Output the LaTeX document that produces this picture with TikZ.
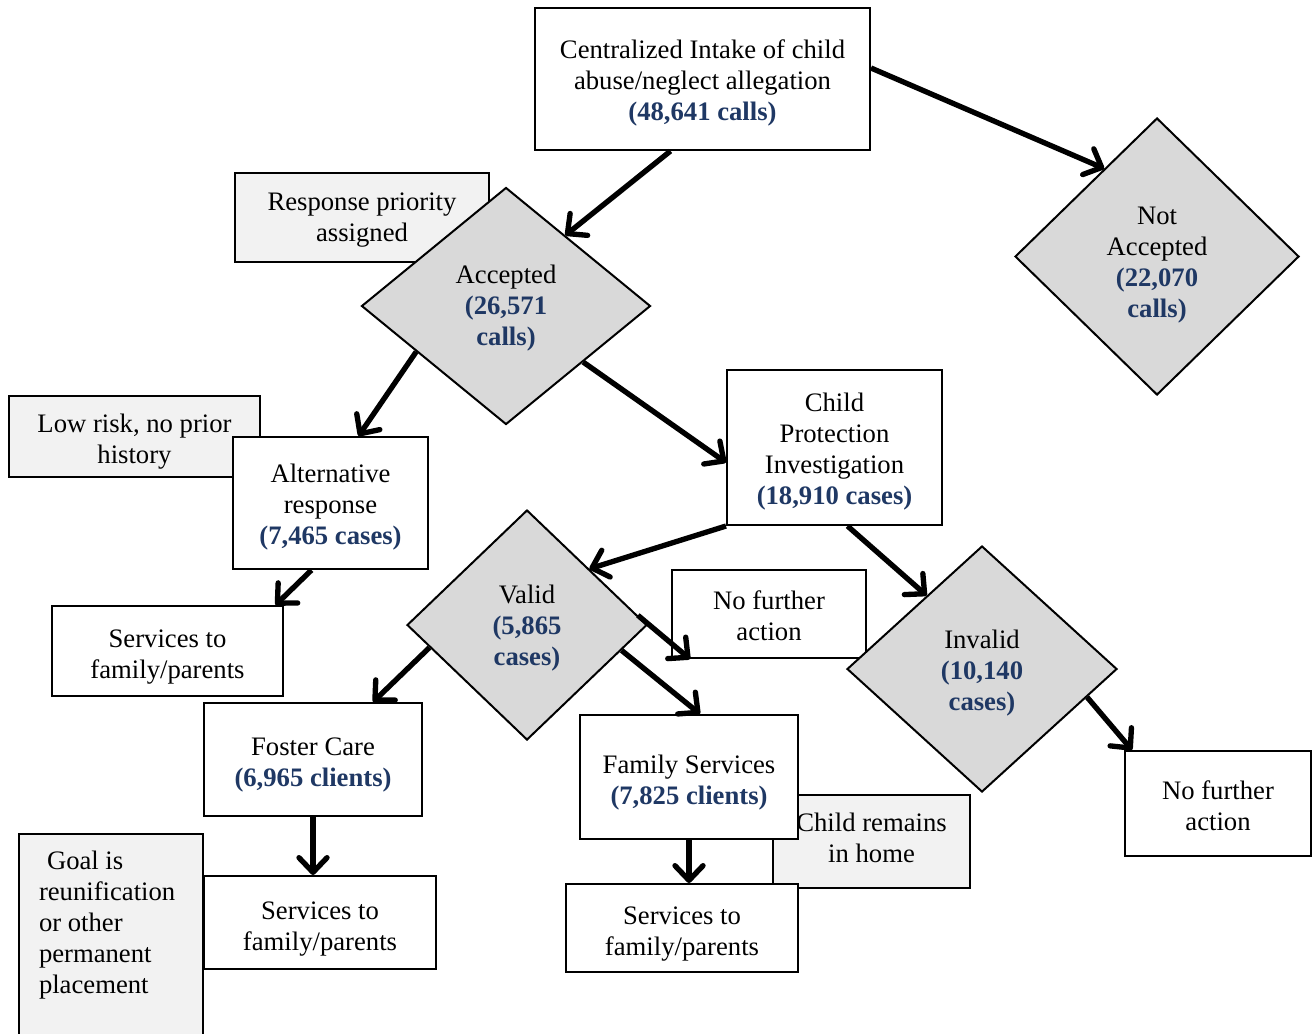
\documentclass[tikz,border=0pt]{standalone}
\usepackage{fontspec}
\setmainfont{Liberation Serif}
\usepackage{xcolor}
\usetikzlibrary{shapes.geometric,arrows.meta}
\definecolor{numblue}{RGB}{31,56,100}
\definecolor{notegray}{RGB}{242,242,242}
\definecolor{choicegray}{RGB}{217,217,217}
\newcommand{\nb}[1]{\textcolor{numblue}{\textbf{#1}}}
\newcommand{\tlift}[1]{\rule{0pt}{#1pt}}
\tikzset{
  box/.style={draw, line width=1.5pt, fill=white, align=center, inner sep=0pt,
              font=\fontsize{20}{23.25}\selectfont},
  notebox/.style={box, fill=notegray},
  decision/.style={box, diamond, fill=choicegray},
  flow/.style={line width=4pt, -{Straight Barb[length=11pt,width=21pt,round]}}
}

\begin{document}
\begin{tikzpicture}[x=0.75pt, y=-0.75pt]
  \useasboundingbox (0,0) rectangle (1312,1033);

  \node[notebox, minimum width=190.5pt, minimum height=66.75pt] (resp) at (362,217.5)
       {\tlift{17}Response priority\\assigned};
  \node[notebox, minimum width=188.25pt, minimum height=60.75pt] (lowrisk) at (134.5,436.5)
       {\tlift{21.5}Low risk, no prior\\history};
  \node[notebox, minimum width=147.75pt, minimum height=69.75pt] (remains) at (871.5,841.5)
       {Child remains\\in home\rule[-6pt]{0pt}{6pt}};
  \node[notebox, anchor=north west, align=left, inner xsep=15pt, inner ysep=12.75pt] (goal) at (18,833)
       {\parbox[c][150pt][t]{108pt}{\hspace*{6pt}Goal is\\reunification\\or other\\permanent\\placement}};

  \node[box, minimum width=251.25pt, minimum height=106.5pt] (intake) at (702.5,79)
       {\tlift{20}Centralized Intake of child\\abuse/neglect allegation\\\nb{(48,641 calls)}};
  \node[decision, minimum width=213pt, minimum height=207.75pt] (notacc) at (1157,256.5)
       {\tlift{26}Not\\Accepted\\\nb{(22,070}\\\nb{calls)}};
  \node[decision, minimum width=216.75pt, minimum height=177.75pt] (accepted) at (506,306)
       {\tlift{17}Accepted\\\nb{(26,571}\\\nb{calls)}};
  \node[box, minimum width=146.25pt, minimum height=99pt] (alt) at (330.5,503)
       {\tlift{20}Alternative\\response\\\nb{(7,465 cases)}};
  \node[box, minimum width=161.25pt, minimum height=116.25pt] (cpi) at (834.5,447.5)
       {\tlift{20}Child\\Protection\\Investigation\\\nb{(18,910 cases)}};
  \node[box, minimum width=173.25pt, minimum height=67.5pt] (serv1) at (167.5,651)
       {\tlift{22}Services to\\family/parents};
  \node[decision, minimum width=180pt, minimum height=172.5pt] (valid) at (527,625)
       {\tlift{19}Valid\\\nb{(5,865}\\\nb{cases)}};
  \node[box, minimum width=145.5pt, minimum height=66pt] (nfa1) at (769,614)
       {\tlift{17}No further\\action};
  \node[decision, minimum width=202.5pt, minimum height=184.5pt] (invalid) at (982,669)
       {\tlift{20}Invalid\\\nb{(10,140}\\\nb{cases)}};
  \node[box, minimum width=163.5pt, minimum height=84.75pt] (foster) at (313,759.5)
       {\tlift{21.5}Foster Care\\\nb{(6,965 clients)}};
  \node[box, minimum width=163.5pt, minimum height=93pt] (famserv) at (689,777)
       {\tlift{22}Family Services\\\nb{(7,825 clients)}};
  \node[box, minimum width=139.5pt, minimum height=78.75pt] (nfa2) at (1218,803.5)
       {\tlift{17}No further\\action};
  \node[box, minimum width=174pt, minimum height=69.75pt] (serv2) at (320,922.5)
       {\tlift{23}Services to\\family/parents};
  \node[box, minimum width=174pt, minimum height=66pt] (serv3) at (682,928)
       {\tlift{23}Services to\\family/parents};

  \draw[flow] ([xshift=-24pt]intake.south) -- (accepted.50);
  \draw[flow] ([yshift=8.25pt]intake.east) -- (notacc.121);
  \draw[flow] (accepted.207) -- ([xshift=21pt]alt.north);
  \draw[flow] (accepted.-36) -- ([yshift=-11.25pt]cpi.west);
  \draw[flow] ([xshift=-14.25pt]alt.south) -- ([xshift=81pt]serv1.north);
  \draw[flow] (cpi.south west) -- (valid.42);
  \draw[flow] ([xshift=9.75pt]cpi.south) -- (invalid.127);
  \draw[flow] (valid.5) -- ([xshift=-59.25pt]nfa1.south);
  \draw[flow] (valid.-15) -- ([xshift=8.25pt]famserv.north);
  \draw[flow] (valid.193) -- ([xshift=45pt]foster.north);
  \draw[flow] (foster.south) -- (foster.south |- serv2.north);
  \draw[flow] (famserv.south) -- (famserv.south |- serv3.north);
  \draw[flow] (invalid.-15) -- ([xshift=6pt]nfa2.north west);
\end{tikzpicture}
\end{document}
